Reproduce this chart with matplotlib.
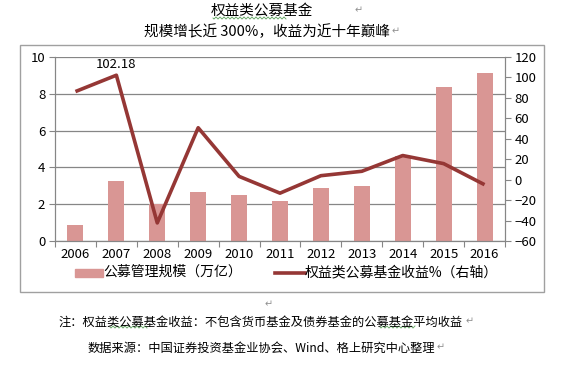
import numpy as np
import matplotlib.pyplot as plt
from matplotlib.patches import Rectangle
from matplotlib.lines import Line2D

plt.rcParams['font.family'] = ['Noto Sans CJK SC', 'DejaVu Sans']

# data
years = ['2006', '2007', '2008', '2009', '2010', '2011', '2012', '2013', '2014', '2015', '2016']
scale = [0.86, 3.26, 2.0, 2.66, 2.5, 2.17, 2.9, 2.99, 4.62, 8.39, 9.15]          # 万亿
ret = [86.2, 102.18, -42.3, 50.8, 3.2, -13.2, 3.9, 8.2, 23.6, 15.7, -4.9]        # %
left_ticks = [0, 2, 4, 6, 8, 10]
right_ticks = [-60, -40, -20, 0, 20, 40, 60, 80, 100, 120]

W, H = 562, 366
bar_c = '#d99694'
line_c = '#953735'
grid_c = '#868686'

fig = plt.figure(figsize=(W / 100, H / 100), dpi=100)
renderer = fig.canvas.get_renderer()

def fx(px):
    return px / W

def fy(py):
    return 1 - py / H

def ret_mark(px, py):
    fig.text(fx(px), fy(py), '\u21b5', fontsize=7, color='#909090',
             family='DejaVu Sans', va='center')

def para(px, py, s, size, mark_x=None):
    # centred line of text followed by a word-processor return mark
    t = fig.text(fx(px), fy(py), s, fontsize=size, ha='center', va='center')
    if mark_x is None:
        mark_x = t.get_window_extent(renderer).x1 + 2
    ret_mark(mark_x, py - 1)
    return t

def squiggle(x0, x1, py):
    # green spell-check underline
    xs = np.linspace(x0, x1, int((x1 - x0) * 2))
    ys = py + 1.0 * np.sin((xs - x0) * np.pi / 2)
    fig.lines.append(Line2D(fx(xs), fy(ys), transform=fig.transFigure,
                            color='#5aa05a', linewidth=0.6))

# outer chart frame (excel chart area)
fig.patches.append(Rectangle((fx(20), fy(292)), fx(524), (292 - 45) / H,
                             transform=fig.transFigure, fill=False,
                             edgecolor='#a0a0a0', linewidth=1))

ax = fig.add_axes([fx(55), fy(241), fx(450), 184 / H])
x = np.arange(len(years))
ax.bar(x, scale, width=0.39, color=bar_c, zorder=2)
ax.set_xlim(-0.5, len(years) - 0.5)
ax.set_ylim(0, 10)
ax.set_yticks(left_ticks)
ax.yaxis.grid(True, color=grid_c, linewidth=0.9)
ax.set_axisbelow(True)
ax.set_xticks(np.arange(-0.5, len(years), 1.0))
ax.set_xticklabels([])
ax.set_xticks(x, minor=True)
ax.set_xticklabels(years, minor=True)
ax.tick_params(axis='x', which='major', length=4, color=grid_c)
ax.tick_params(axis='x', which='minor', length=0, pad=5, labelsize=9.5)
ax.tick_params(axis='y', length=4, color=grid_c, labelsize=9.5, pad=3)
for s in ['left', 'bottom', 'right']:
    ax.spines[s].set_color(grid_c)
ax.spines['top'].set_visible(False)

ax2 = ax.twinx()
ax2.plot(x, ret, color=line_c, linewidth=2.6, solid_capstyle='butt', zorder=3)
ax2.set_ylim(-60, 120)
ax2.set_yticks(right_ticks)
ax2.tick_params(axis='y', length=4, color=grid_c, labelsize=9.5, pad=3)
for s in ['left', 'bottom', 'right']:
    ax2.spines[s].set_color(grid_c)
ax2.spines['top'].set_visible(False)
ax2.annotate('%.2f' % ret[1], (x[1], ret[1]), xytext=(0, 3), textcoords='offset points',
             ha='center', va='bottom', fontsize=9.5)

# legend
fig.patches.append(Rectangle((fx(75), fy(277)), fx(28), 8 / H,
                             transform=fig.transFigure, color=bar_c))
fig.text(fx(103), fy(272), '公募管理规模（万亿）', fontsize=10, va='center')
fig.lines.append(Line2D([fx(275), fx(305)], [fy(273), fy(273)],
                        transform=fig.transFigure, color=line_c, linewidth=2.6))
fig.text(fx(305), fy(272), '权益类公募基金收益%（右轴）', fontsize=10, va='center')

# titles and notes
para(262, 11, '权益类公募基金', 10.5, mark_x=355)
squiggle(213, 286, 18)
para(267, 32, '规模增长近 300%，收益为近十年巅峰', 10.5)
ret_mark(265, 304)
para(261, 322, '注：权益类公募基金收益：不包含货币基金及债券基金的公募基金平均收益', 8.8)
squiggle(110, 147, 327)
squiggle(380, 415, 327)
para(261, 348, '数据来源：中国证券投资基金业协会、Wind、格上研究中心整理', 8.8)

fig.savefig('out.png', dpi=100)
